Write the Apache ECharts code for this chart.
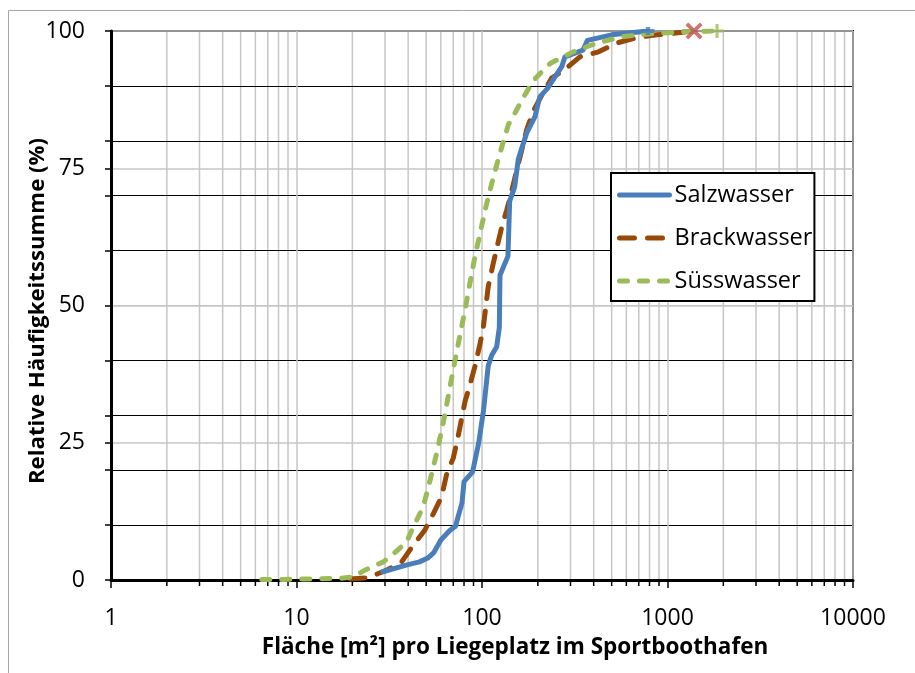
<!DOCTYPE html>
<html>
<head>
<meta charset="utf-8">
<script src="https://cdn.jsdelivr.net/npm/echarts@6/dist/echarts.min.js"></script>
<style>
html,body{margin:0;padding:0;background:#fff;}
#chart{width:915px;height:673px;}
</style>
</head>
<body>
<div id="chart"></div>
<script>
// ---- data ----
const seriesNames = ['Salzwasser', 'Brackwasser', 'Süsswasser'];
const salzwasser = [[29.2,1.5],[39,2.7],[46,3.3],[51,4],[55,5],[60,7.3],[67,9],[72,9.8],[75,12],[78,14],[80,17.9],[89,19.7],[96,25],[102,31],[108,39],[113,41],[120,42.5],[124,46],[125,55.5],[138,59],[141,69],[150,71.6],[157,76.7],[174,81.4],[193,84.4],[205,88],[225,89.5],[269,93.5],[280,95.3],[350,96.5],[370,98.3],[500,99.3],[785,100]];
const brackwasser = [[19.4,0.2],[24.3,0.4],[30.6,1.8],[36.9,3.3],[42.7,6.4],[49,9],[54.7,12.1],[60.6,15.2],[64.6,19.4],[70,22.2],[74.3,26.1],[81,32.5],[86,35.5],[91.6,38.9],[97.7,43.1],[101.7,46.1],[108,53.4],[114,57.1],[120,60.4],[128,64.4],[136,67.4],[145,71],[154,74.7],[164,78.4],[174,82],[189,85.4],[210,88.3],[237,91.4],[280,93],[337,95.3],[425,96.2],[532,97.8],[682,98.8],[874,99.3],[1074,99.6],[1390,100]];
const suesswasser = [[6.5,0.1],[8.5,0.1],[12,0.2],[17.2,0.3],[20.3,0.6],[23.4,1.8],[29.4,3.3],[35.3,5.5],[39.3,7],[42.7,9.7],[48.3,13.4],[52.5,18.2],[57,23.1],[61.7,28.5],[65.7,33.4],[71.5,40],[76,44.5],[81,49.2],[86,54],[91.6,58.9],[97.7,63.2],[104,67.4],[110,70.8],[122,76.5],[131,80.1],[139,83],[147,84.4],[164,87.4],[181,89.9],[189,91],[233,94.1],[310,96.2],[415,97.8],[578,99],[805,99.5],[1300,99.9],[1849,100]];
const xMinorTicks = [2,3,4,5,6,7,8,9,20,30,40,50,60,70,80,90,200,300,400,500,600,700,800,900,2000,3000,4000,5000,6000,7000,8000,9000];
const xTitle = 'Fläche [m²] pro Liegeplatz im Sportboothafen';
const yTitle = 'Relative Häufigkeitssumme (%)';

// ---- styles ----
const FONT = '"Open Sans", sans-serif';
const BLUE = '#4a7ebb', BROWN = '#984807', GREEN = '#9bbb59', RED = '#c0504d';
const GRIDGREY = '#c6c6c6';

const chart = echarts.init(document.getElementById('chart'));
const last = a => a[a.length - 1];

// black split lines at every 10, grey at 50
const tenColors = [];
for (let i = 0; i <= 10; i++) tenColors.push(i === 5 ? GRIDGREY : '#000');

const option = {
  animation: false,
  backgroundColor: '#fff',
  textStyle: { fontFamily: FONT },
  grid: { left: 111, right: 62, top: 31, bottom: 93, show: true, borderColor: '#000', borderWidth: 2, backgroundColor: 'transparent' },
  graphic: [
    { type: 'rect', z: -10, shape: { x: 8.5, y: 10.5, width: 1000, height: 1000 }, style: { fill: 'none', stroke: '#a6a6a6', lineWidth: 1 } },
    { type: 'text', x: 515, y: 648, style: { text: xTitle, font: 'bold 22.5px ' + FONT, fill: '#000', textAlign: 'center', textVerticalAlign: 'middle' } },
    { type: 'text', x: 38, y: 311, rotation: Math.PI / 2, style: { text: yTitle, font: 'bold 22.2px ' + FONT, fill: '#000', textAlign: 'center', textVerticalAlign: 'middle' } }
  ],
  legend: {
    data: seriesNames,
    orient: 'vertical',
    left: 611, top: 173,
    padding: [10, 2, 8, 6],
    itemGap: 19,
    itemWidth: 50, itemHeight: 22,
    borderColor: '#000', borderWidth: 2,
    backgroundColor: '#fff',
    itemStyle: { opacity: 0 },
    lineStyle: { width: 5 },
    textStyle: { fontFamily: FONT, fontSize: 23.5, color: '#000' }
  },
  xAxis: {
    type: 'log', logBase: 10, min: 1, max: 10000,
    axisLine: { lineStyle: { color: '#000', width: 3 } },
    axisTick: { show: true, length: 8, lineStyle: { color: '#000', width: 1.5 } },
    axisLabel: { fontSize: 23, color: '#000', margin: 27, formatter: v => String(Math.round(v)) },
    splitLine: { show: true, lineStyle: { color: GRIDGREY, width: 1.5 } }
  },
  yAxis: [
    {
      type: 'value', min: 0, max: 100, interval: 10,
      axisLine: { show: true, lineStyle: { color: '#000', width: 3 } },
      axisTick: { show: true, length: 6, lineStyle: { color: '#000', width: 1.5 } },
      axisLabel: { show: false },
      splitLine: { show: true, lineStyle: { color: tenColors, width: 1.2 } }
    },
    {
      type: 'value', min: 0, max: 100, interval: 25, position: 'left',
      axisLine: { show: false },
      axisTick: { show: true, length: 6, lineStyle: { color: '#000', width: 1.5 } },
      axisLabel: { fontSize: 23, color: '#000', margin: 26 },
      splitLine: { show: true, lineStyle: { color: GRIDGREY, width: 1.5 } }
    }
  ],
  series: [
    {
      type: 'custom', name: 'minorGrid', z: -1, silent: true, clip: false,
      data: xMinorTicks.map(v => [v, 0]),
      encode: { x: 0, y: 1 },
      renderItem: function (params, api) {
        const b = api.coord([api.value(0), 0]);
        const t = api.coord([api.value(0), 100]);
        return {
          type: 'group', children: [
            { type: 'line', shape: { x1: b[0], y1: t[1], x2: b[0], y2: b[1] }, style: { stroke: GRIDGREY, lineWidth: 1.5 } },
            { type: 'line', shape: { x1: b[0], y1: b[1], x2: b[0], y2: b[1] + 6 }, style: { stroke: '#000', lineWidth: 1.5 } }
          ]
        };
      }
    },
    {
      name: seriesNames[0], type: 'line', data: salzwasser, symbol: 'none', z: 5,
      lineStyle: { color: BLUE, width: 5, cap: 'round', join: 'round' }, itemStyle: { color: BLUE }
    },
    {
      name: seriesNames[1], type: 'line', data: brackwasser, symbol: 'none', z: 4,
      lineStyle: { color: BROWN, width: 5, type: [15, 13], cap: 'round', join: 'round' }, itemStyle: { color: BROWN }
    },
    {
      name: seriesNames[2], type: 'line', data: suesswasser, symbol: 'none', z: 6,
      lineStyle: { color: GREEN, width: 5, type: [8, 12], cap: 'round', join: 'round' }, itemStyle: { color: GREEN }
    },
    {
      type: 'scatter', name: 'ends', z: 7, silent: true,
      data: [
        { value: last(salzwasser), symbol: 'path://M0,2 L12,2 L12,6 L0,6 Z M4,0 L8,0 L8,8 L4,8 Z', symbolSize: [13, 8], itemStyle: { color: BLUE } },
        { value: last(brackwasser), symbol: 'path://M0,2.5 L2.5,0 L8,5.5 L13.5,0 L16,2.5 L10.5,8 L16,13.5 L13.5,16 L8,10.5 L2.5,16 L0,13.5 L5.5,8 Z', symbolSize: 17, itemStyle: { color: RED } },
        { value: last(suesswasser), symbol: 'path://M5.5,0 H8.5 V5.5 H14 V8.5 H8.5 V14 H5.5 V8.5 H0 V5.5 H5.5 Z', symbolSize: 14, itemStyle: { color: GREEN } }
      ]
    }
  ]
};
chart.setOption(option);
</script>
</body>
</html>
